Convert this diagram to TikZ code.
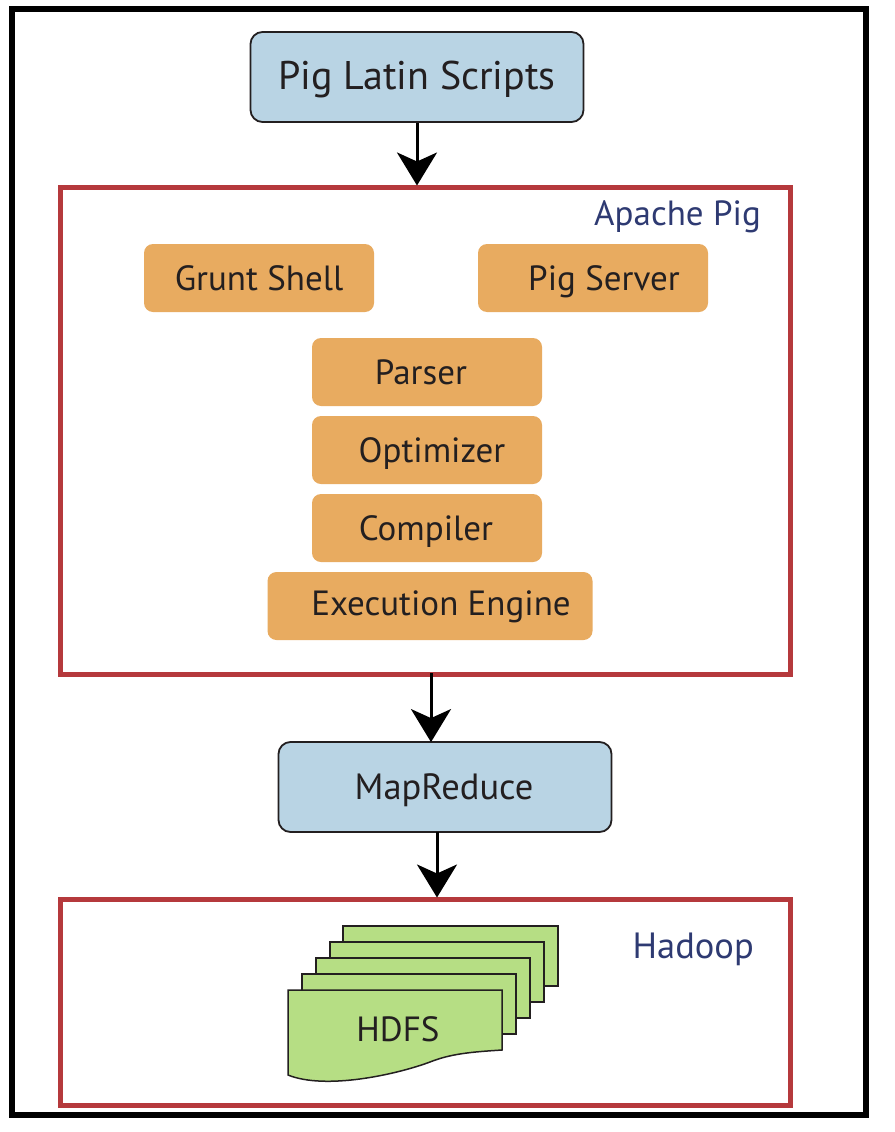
\documentclass[tikz,border=0pt]{standalone}
\usepackage{fontspec}
\setmainfont{PT Sans}
\usetikzlibrary{arrows.meta}
\definecolor{bluefill}{HTML}{B9D4E4}
\definecolor{orangefill}{HTML}{E8AB60}
\definecolor{greenfill}{HTML}{B6DE84}
\definecolor{redline}{HTML}{B5393C}
\definecolor{navy}{HTML}{2E3A72}
\definecolor{ink}{HTML}{231F20}
\tikzset{
  x=1pt,y=-1pt,
  bluebox/.style={draw=ink,line width=1.8pt,fill=bluefill,rounded corners=12pt,minimum width=333pt,minimum height=90pt,inner sep=0pt,text=ink,text height=28pt,text depth=4pt},
  orangebox/.style={fill=orangefill,rounded corners=9pt,minimum height=68pt,inner sep=0pt,text=ink,font=\fontsize{35}{38}\selectfont,text height=28pt,text depth=4pt},
  redframe/.style={draw=redline,line width=5pt,inner sep=0pt},
  arrowline/.style={draw=black,line width=3pt,-{Stealth[length=33pt,width=40pt,inset=9pt]},shorten >=-1pt},
  sheet/.style={draw=ink,line width=1.5pt,fill=greenfill},
  tag/.style={text=navy,font=\fontsize{35}{38}\selectfont,inner sep=0pt},
}
\begin{document}
\begin{tikzpicture}
\useasboundingbox (0,0) rectangle (894,1132);
\fill[white] (0,0) rectangle (894,1132);
\node[draw=black,line width=6pt,minimum width=854pt,minimum height=1106pt,inner sep=0pt] (outer) at (439,562) {};
\node[redframe,minimum width=730pt,minimum height=487pt] (apache) at (425,430.5) {};
\node[redframe,minimum width=730pt,minimum height=206pt] (hadoop) at (425,1002) {};
\node[bluebox,font=\fontsize{40}{44}\selectfont] (scripts) at (417,77) {Pig Latin Scripts};
\node[bluebox,font=\fontsize{36.5}{40}\selectfont] (map) at (445,787) {\hspace*{-2pt}MapReduce};
\node[tag,anchor=base east] (apachetag) at (761,225) {Apache Pig};
\node[tag,anchor=base east,font=\fontsize{36.5}{40}\selectfont] (hadooptag) at (754,958) {Hadoop};
\node[orangebox,minimum width=230pt] (grunt) at (259,278) {Grunt Shell};
\node[orangebox,minimum width=230pt] (server) at (593,278) {\hspace*{22pt}Pig Server};
\node[orangebox,minimum width=230pt] (parser) at (427,372) {\hspace*{-12pt}Parser};
\node[orangebox,minimum width=230pt] (optimizer) at (427,450) {\hspace*{10pt}Optimizer};
\node[orangebox,minimum width=230pt] (compiler) at (427,528) {\hspace*{-2pt}Compiler};
\node[orangebox,minimum width=325pt,text height=25pt,text depth=7pt] (engine) at (430,606) {\hspace*{22pt}Execution Engine};
\draw[sheet] (343,926) rectangle (558,986);
\draw[sheet] (330,942) rectangle (544,1002);
\draw[sheet] (316,958) rectangle (530,1018);
\draw[sheet] (302,974) rectangle (516,1034);
\draw[sheet] (288,990) -- (502,990) -- (502,1050)
  .. controls (470,1052) and (450,1054) .. (430,1062)
  .. controls (395,1075) and (325,1090) .. (288,1075) -- cycle;
\node[text=ink,font=\fontsize{35}{38}\selectfont,inner sep=0pt] (hdfs) at (398,1029) {HDFS};
\coordinate (c1) at (431,673);
\coordinate (c2) at (437,832);
\draw[arrowline] (scripts.south) -- (scripts.south |- apache.north);
\draw[arrowline] (c1) -- (c1 |- map.north);
\draw[arrowline] (c2) -- (c2 |- hadoop.north);
\end{tikzpicture}
\end{document}
